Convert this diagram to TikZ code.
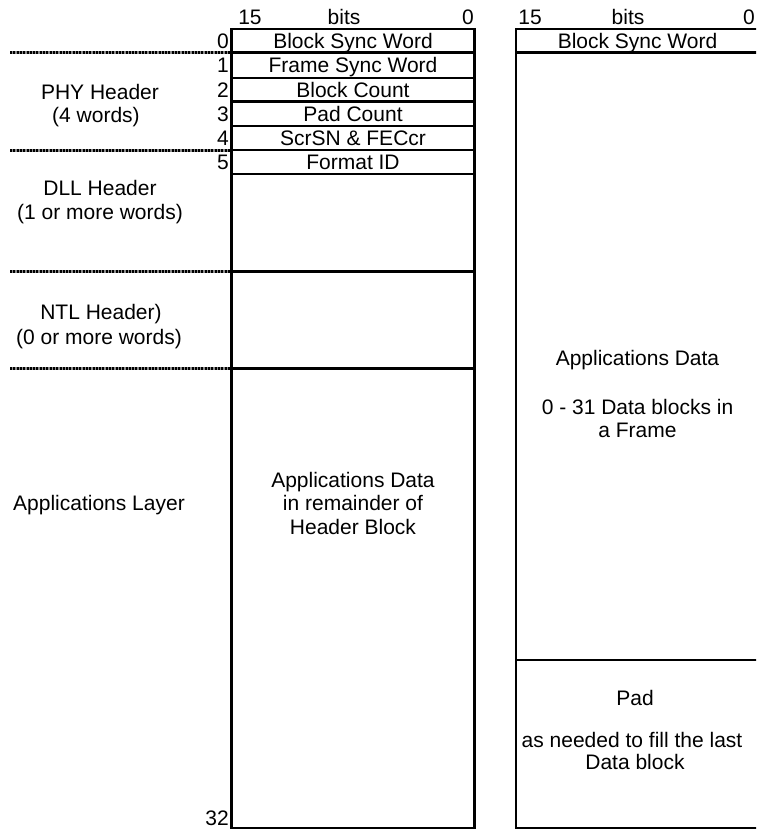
\documentclass[tikz,border=0pt]{standalone}
\usepackage{fontspec}
\setmainfont{Liberation Sans}
\begin{document}
\begin{tikzpicture}[x=1pt, y=-1pt,
  font=\fontsize{21}{23.5}\selectfont,
  box/.style={draw, line width=2.4pt},
  sepbase/.style={line width=3pt, black!45},
  sep/.style={line width=3pt, dash pattern=on 2pt off 1.3pt, black},
  txt/.style={inner sep=0pt, anchor=base},
  num/.style={inner sep=0pt, anchor=base east}]

  \clip (0,0) rectangle (756,830);
  \fill[white] (0,0) rectangle (756,830);

  % layer separators (hatched rules)
  \foreach \y in {52.3,150,271.5,368.5} {
    \draw[sepbase] (10,\y) -- (231.5,\y);
    \draw[sep] (10,\y) -- (231.5,\y);
  }

  % header block (left frame)
  \draw[box] (231.5,29) rectangle (474.5,828);
  \foreach \y in {52.3,78,101.5,126,150,174,271.5,368.5}
    \draw[box] (231.5,\y) -- (474.5,\y);

  % data block (right frame, runs off the edge)
  \draw[box] (516,29) rectangle (760,828);
  \draw[box] (516,52.3) -- (760,52.3);
  \draw[box] (516,660) -- (760,660);

  % bit ruler
  \node[txt] (l15)   at (250,24.5) {15};
  \node[txt] (lbits) at (344,24.5) {bits};
  \node[txt] (l0)    at (468,24.5) {0};
  \node[txt] (r15)   at (530,24.5) {15};
  \node[txt] (rbits) at (628,24.5) {bits};
  \node[txt] (r0)    at (749,24.5) {0};

  % word numbers
  \node[num] (w0)  at (229,48.1)  {0};
  \node[num] (w1)  at (229,72.6)  {1};
  \node[num] (w2)  at (229,97.2)  {2};
  \node[num] (w3)  at (229,121.2) {3};
  \node[num] (w4)  at (229,145.5) {4};
  \node[num] (w5)  at (229,169.5) {5};
  \node[num] (w32) at (229,825.5) {32};

  % header fields
  \node[txt] (f0) at (353,48.1)  {Block Sync Word};
  \node[txt] (f1) at (353,72.6)  {Frame Sync Word};
  \node[txt] (f2) at (353,97.2)  {Block Count};
  \node[txt] (f3) at (353,121.2) {Pad Count};
  \node[txt] (f4) at (353,145.5) {ScrSN \& FECcr};
  \node[txt] (f5) at (353,169.5) {Format ID};

  \node[txt] (ad1) at (353,487.5) {Applications Data};
  \node[txt] (ad2) at (353,510.5) {in remainder of};
  \node[txt] (ad3) at (353,534.5) {Header Block};

  % layer labels
  \node[txt] (phy1) at (100,99.5)  {PHY Header};
  \node[txt] (phy2) at (96,122.5)  {(4 words)};
  \node[txt] (dll1) at (100,195.5) {DLL Header};
  \node[txt] (dll2) at (100,219.5) {(1 or more words)};
  \node[txt] (ntl1) at (101,319.5) {NTL Header)};
  \node[txt] (ntl2) at (99,344.5)  {(0 or more words)};
  \node[txt] (app)  at (99,510.5)  {Applications Layer};

  % data block contents
  \node[txt] (rf0) at (637.5,48.1)  {Block Sync Word};
  \node[txt] (rd1) at (637.5,365.5) {Applications Data};
  \node[txt] (rd2) at (637.5,414.5) {0 - 31 Data blocks in};
  \node[txt] (rd3) at (637.5,437.5) {a Frame};
  \node[txt] (pd1) at (635,705.5)   {Pad};
  \node[txt] (pd2) at (632,747.5)   {as needed to fill the last};
  \node[txt] (pd3) at (635,769.5)   {Data block};
\end{tikzpicture}
\end{document}
